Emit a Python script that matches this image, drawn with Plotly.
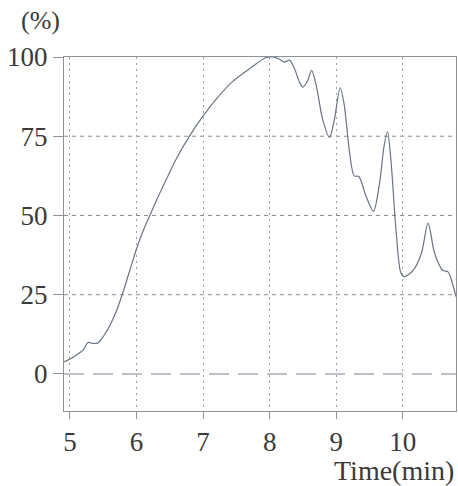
import plotly.graph_objects as go

# Chromatogram trace: elution time (min) vs. relative response (%)
time_min = [4.91, 5.0, 5.1, 5.2, 5.27, 5.35, 5.42, 5.5, 5.6, 5.7, 5.8, 5.9, 6.0, 6.1, 6.2,
            6.3, 6.45, 6.6, 6.8, 7.0, 7.2, 7.45, 7.75, 7.93, 8.05, 8.15, 8.22, 8.3, 8.38,
            8.45, 8.5, 8.57, 8.63, 8.7, 8.8, 8.9, 8.97, 9.06, 9.12, 9.2, 9.27, 9.34,
            9.45, 9.56, 9.65, 9.72, 9.77, 9.82, 9.9, 9.97, 10.02, 10.15, 10.28,
            10.38, 10.48, 10.6, 10.68, 10.74, 10.8]
response_pct = [3.8, 4.7, 6.0, 7.6, 9.9, 9.6, 9.8, 11.8, 15.3, 20.0, 26.0, 32.8, 39.5, 45.2, 50.0,
                54.8, 61.5, 68.0, 75.2, 81.4, 86.8, 92.4, 97.1, 99.7, 100.0, 99.3, 98.4, 99.0, 96.0,
                92.0, 90.5, 92.5, 95.8, 91.0, 80.0, 74.6, 80.0, 90.3, 85.0, 70.0, 62.5, 62.3,
                56.0, 51.3, 60.0, 72.0, 76.5, 68.0, 45.0, 32.0, 30.7, 32.5, 38.0,
                47.6, 38.0, 32.7, 32.2, 29.0, 24.4]

x_ticks = [5, 6, 7, 8, 9, 10]
y_ticks = [0, 25, 50, 75, 100]
y_grid = [25, 50, 75]
x_range = [4.91, 10.80]
y_range = [-11.7, 100]

serif = "Liberation Serif, Times New Roman, serif"
axis_grey = "#8c9099"
text_grey = "#3a3a3a"

fig = go.Figure()
fig.add_trace(go.Scatter(
    x=time_min, y=response_pct, mode="lines",
    line=dict(color="#6b7482", width=1.2, shape="spline", smoothing=0.8),
    hoverinfo="skip", showlegend=False,
))

shapes = []
for v in y_grid:
    shapes.append(dict(type="line", xref="paper", x0=0, x1=1, yref="y", y0=v, y1=v,
                       line=dict(color="#8a8a8a", width=1, dash="4px,4px"), layer="below"))
# baseline at zero response
shapes.append(dict(type="line", xref="paper", x0=0, x1=1, yref="y", y0=0, y1=0,
                   line=dict(color="#a8adb5", width=1.5, dash="20px,9px"), layer="below"))

fig.update_layout(
    width=458, height=486,
    margin=dict(l=64, r=2, t=57, b=75),
    paper_bgcolor="white", plot_bgcolor="white",
    font=dict(family=serif, size=27, color=text_grey),
    shapes=shapes,
    xaxis=dict(
        range=x_range, tickvals=x_ticks, ticktext=[str(t) for t in x_ticks],
        showline=True, linecolor=axis_grey, linewidth=1, mirror=True,
        ticks="outside", ticklen=7, tickcolor=axis_grey,
        showgrid=True, gridcolor="#a0a0a0", gridwidth=1, griddash="2px,4px",
        zeroline=False, tickfont=dict(family=serif, size=27, color=text_grey),
    ),
    yaxis=dict(
        range=y_range, tickvals=y_ticks, ticktext=[str(t) for t in y_ticks],
        showline=True, linecolor=axis_grey, linewidth=1, mirror=True,
        ticks="outside", ticklen=10, tickcolor=axis_grey,
        showgrid=False, zeroline=False,
        tickfont=dict(family=serif, size=27, color=text_grey),
    ),
    annotations=[
        dict(text="(%)", xref="paper", yref="paper", x=-0.115, y=1.0, yshift=37,
             xanchor="left", yanchor="middle", showarrow=False,
             font=dict(family=serif, size=26, color=text_grey)),
        dict(text="Time(min)", xref="paper", yref="paper", x=1.0, y=0, yshift=-59,
             xanchor="right", yanchor="middle", showarrow=False,
             font=dict(family=serif, size=28, color=text_grey)),
    ],
)

fig.write_html("out.html")
